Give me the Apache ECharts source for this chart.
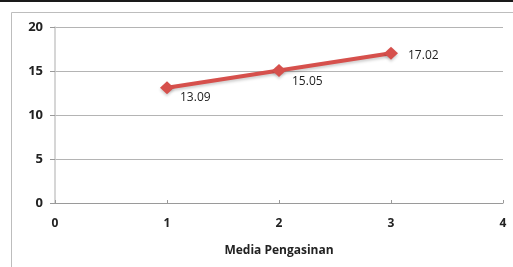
<!DOCTYPE html>
<html>
<head>
<meta charset="utf-8">
<script src="https://cdn.jsdelivr.net/npm/echarts@6/dist/echarts.min.js"></script>
<style>
  html, body { margin: 0; padding: 0; background: #fff; }
  #chart { width: 513px; height: 267px; }
</style>
</head>
<body>
<div id="chart"></div>
<script>
var xValues = [1, 2, 3];
var yValues = [13.09, 15.05, 17.02];
var xTicks = [0, 1, 2, 3, 4];
var yTicks = [0, 5, 10, 15, 20];

var labelOffsets = [[0, 10], [0, 11], [4, 2]];

var chart = echarts.init(document.getElementById('chart'));
var font = 'Open Sans';
var points = xValues.map(function (x, i) {
  return {
    value: [x, yValues[i]],
    label: { offset: labelOffsets[i] }
  };
});

chart.setOption({
  animation: false,
  textStyle: { fontFamily: font },
  graphic: [
    { type: 'rect', shape: { x: 0, y: 0, width: 513, height: 2 }, style: { fill: '#1a1a1a' } },
    { type: 'rect', shape: { x: 11.5, y: 12.5, width: 520, height: 280 }, style: { fill: 'none', stroke: '#bdbdbd', lineWidth: 1 } }
  ],
  grid: { left: 55, right: 10, top: 27, bottom: 64 },
  xAxis: {
    type: 'value',
    min: xTicks[0],
    max: xTicks[xTicks.length - 1],
    interval: 1,
    name: 'Media Pengasinan',
    nameLocation: 'middle',
    nameGap: 42,
    nameTextStyle: { color: '#222', fontSize: 12, fontWeight: 'bold', fontFamily: font },
    axisLine: { lineStyle: { color: '#9a9a9a', width: 1 } },
    axisTick: { inside: true, length: 3, lineStyle: { color: '#9a9a9a' } },
    axisLabel: { margin: 15, color: '#222', fontSize: 12, fontWeight: 'bold', fontFamily: font },
    splitLine: { show: false }
  },
  yAxis: {
    type: 'value',
    min: yTicks[0],
    max: yTicks[yTicks.length - 1],
    interval: 5,
    axisLine: { show: true, lineStyle: { color: '#c8c8c8', width: 1.5 } },
    axisTick: { show: true, length: 5, lineStyle: { color: '#9a9a9a' } },
    axisLabel: { margin: 12, color: '#222', fontSize: 13, fontWeight: 'bold', fontFamily: font },
    splitLine: { lineStyle: { color: '#b4b4b4', width: 1 } }
  },
  series: [{
    type: 'line',
    data: points,
    symbol: 'diamond',
    symbolSize: [14, 13],
    lineStyle: { color: '#d6504c', width: 4, shadowColor: 'rgba(0,0,0,0.2)', shadowBlur: 3, shadowOffsetY: 2 },
    itemStyle: { color: '#d6504c', shadowColor: 'rgba(0,0,0,0.2)', shadowBlur: 3, shadowOffsetY: 2 },
    label: {
      show: true,
      position: 'right',
      distance: 6,
      color: '#222',
      fontSize: 12,
      fontFamily: font,
      formatter: function (p) { return p.value[1].toFixed(2); }
    }
  }]
});
</script>
</body>
</html>
